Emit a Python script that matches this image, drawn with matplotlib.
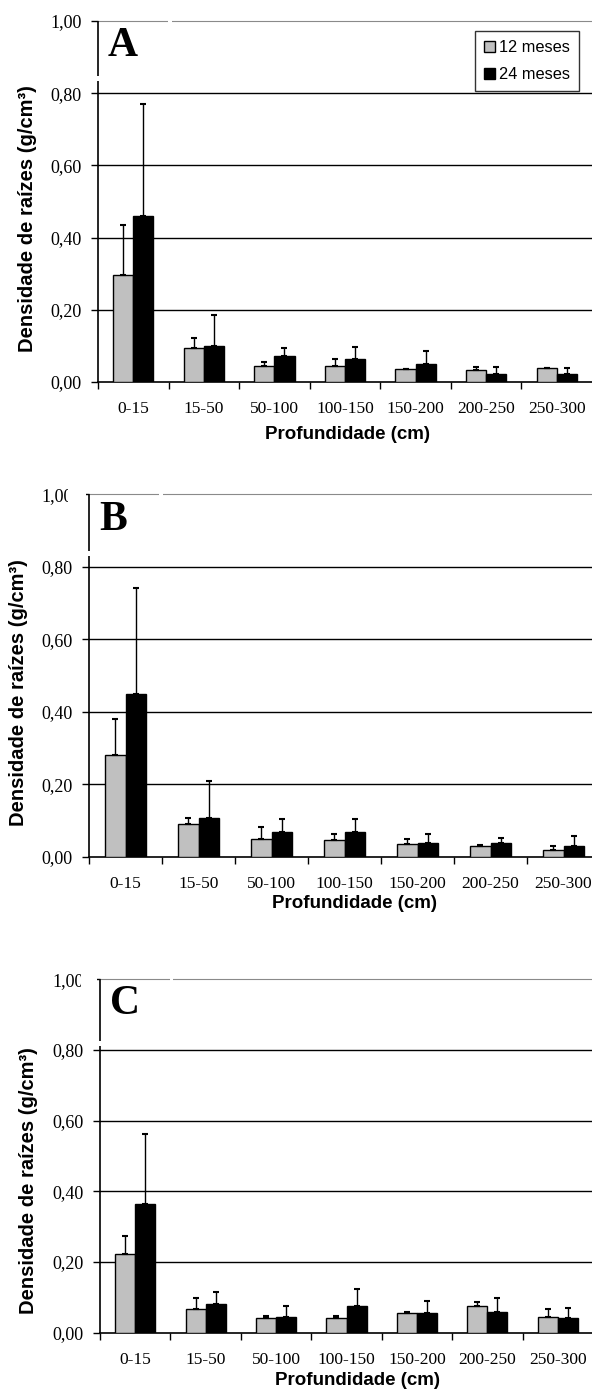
import numpy as np
import matplotlib
matplotlib.use("Agg")
import matplotlib.pyplot as plt
from matplotlib.patches import Rectangle

categories = ["0-15", "15-50", "50-100", "100-150", "150-200", "200-250", "250-300"]
series_names = ["12 meses", "24 meses"]

a_12 = [0.296, 0.093, 0.045, 0.045, 0.035, 0.034, 0.038]
a_12_err = [0.140, 0.030, 0.011, 0.019, 0.002, 0.008, 0.001]
a_24 = [0.459, 0.101, 0.071, 0.064, 0.049, 0.023, 0.023]
a_24_err = [0.310, 0.085, 0.022, 0.033, 0.037, 0.019, 0.015]

b_12 = [0.281, 0.089, 0.049, 0.045, 0.034, 0.030, 0.019]
b_12_err = [0.099, 0.019, 0.032, 0.019, 0.015, 0.002, 0.011]
b_24 = [0.449, 0.108, 0.067, 0.067, 0.038, 0.038, 0.030]
b_24_err = [0.292, 0.102, 0.037, 0.037, 0.026, 0.014, 0.026]

c_12 = [0.222, 0.067, 0.041, 0.041, 0.056, 0.075, 0.044]
c_12_err = [0.052, 0.030, 0.007, 0.007, 0.003, 0.011, 0.023]
c_24 = [0.365, 0.082, 0.044, 0.075, 0.056, 0.059, 0.041]
c_24_err = [0.198, 0.034, 0.031, 0.049, 0.034, 0.038, 0.029]

yticks = [0.0, 0.2, 0.4, 0.6, 0.8, 1.0]
ytick_labels = ["0,00", "0,20", "0,40", "0,60", "0,80", "1,00"]

W, H = 592, 1392
SERIF = "Liberation Serif"
SANS = "Liberation Sans"

fig = plt.figure(figsize=(W / 100, H / 100), dpi=100)


def px_axes(left, right, top, bottom):
    return fig.add_axes([left / W, 1 - bottom / H, (right - left) / W, (bottom - top) / H])


def draw_panel(ax, letter, v12, e12, v24, e24, spine_gap, top_gap, ylab_pos, xlab_pos, legend=False):
    x = np.arange(len(categories))
    bw = 0.285
    zeros = np.zeros(len(categories))
    ekw = dict(ecolor="black", elinewidth=1, capsize=2.5, capthick=1.5)
    ax.bar(x - bw / 2, v12, bw, color="#c0c0c0", edgecolor="black", linewidth=1,
           yerr=[zeros, e12], error_kw=ekw, label=series_names[0], zorder=3)
    ax.bar(x + bw / 2, v24, bw, color="black", edgecolor="black", linewidth=1,
           yerr=[zeros, e24], error_kw=ekw, label=series_names[1], zorder=3)

    ax.set_xlim(-0.5, len(categories) - 0.5)
    ax.set_ylim(0, 1.0)
    ax.set_autoscale_on(False)

    # gridlines (0,20 .. 0,80)
    for y in yticks[1:-1]:
        ax.axhline(y, color="black", linewidth=1, zorder=1)

    ax.set_yticks(yticks)
    ax.set_yticklabels(ytick_labels, fontfamily=SERIF, fontsize=13)
    ax.tick_params(axis="y", direction="out", length=5, width=1, pad=7)

    ax.set_xticks(x)
    ax.set_xticklabels(categories, fontfamily=SERIF, fontsize=12.5)
    ax.set_xticks(np.arange(-0.5, len(categories) - 0.5, 1.0), minor=True)
    ax.tick_params(axis="x", which="major", length=0, pad=14)
    ax.tick_params(axis="x", which="minor", direction="out", length=5, width=1)

    ax.spines["right"].set_visible(False)
    ax.spines["left"].set_visible(False)
    ax.spines["top"].set_color("#8a8a8a")
    ax.spines["bottom"].set_linewidth(1.2)

    # left axis line, with the small break seen in the original
    ytr = ax.get_yaxis_transform()
    ax.plot([0, 0], [0, spine_gap[0]], transform=ytr, color="black", linewidth=1.2,
            clip_on=False, zorder=4, solid_capstyle="butt")
    ax.plot([0, 0], [spine_gap[1], 1.0], transform=ytr, color="black", linewidth=1.2,
            clip_on=False, zorder=4, solid_capstyle="butt")
    ax.plot(top_gap, [1.0, 1.0], color="white", linewidth=3, clip_on=False, zorder=5,
            solid_capstyle="butt")

    ax.set_ylabel("Densidade de raízes (g/cm³)", fontfamily=SANS, fontweight="bold", fontsize=14.5)
    ax.yaxis.set_label_coords(*ylab_pos)
    ax.set_xlabel("Profundidade (cm)", fontfamily=SANS, fontweight="bold", fontsize=13.5)
    ax.xaxis.set_label_coords(*xlab_pos)

    ax.text(0.02, 0.93, letter, transform=ax.transAxes, fontfamily=SERIF, fontweight="bold",
            fontsize=30, va="center", ha="left")

    if legend:
        leg = ax.legend(loc="upper right", bbox_to_anchor=(579 / W, 1 - 31 / H),
                        bbox_transform=fig.transFigure, frameon=True, fancybox=False,
                        prop=dict(family=SANS, size=11.8), handlelength=0.65, handleheight=0.65,
                        handletextpad=0.25, borderpad=0.55, labelspacing=0.75, borderaxespad=0)
        leg.get_frame().set_edgecolor("black")
        leg.get_frame().set_linewidth(1)
        for h in leg.legend_handles:
            h.set_linewidth(1)


ax_a = px_axes(98, 592, 21, 382)
draw_panel(ax_a, "A", a_12, a_12_err, a_24, a_24_err,
           spine_gap=(0.834, 0.847), top_gap=(0.49, 0.55),
           ylab_pos=(-0.123, 0.454), xlab_pos=(0.506, -0.122), legend=True)

ax_b = px_axes(89, 600, 494.3, 856.7)
draw_panel(ax_b, "B", b_12, b_12_err, b_24, b_24_err,
           spine_gap=(0.829, 0.843), top_gap=(0.46, 0.51),
           ylab_pos=(-0.119, 0.452), xlab_pos=(0.52, -0.106))

ax_c = px_axes(100, 593, 979.3, 1332.7)
draw_panel(ax_c, "C", c_12, c_12_err, c_24, c_24_err,
           spine_gap=(0.81, 0.825), top_gap=(0.49, 0.54),
           ylab_pos=(-0.126, 0.43), xlab_pos=(0.523, -0.110))

# cut-off "1,00" labels in panels B and C
for x0, x1, yc in [(68, 86, 494.3), (81, 97, 979.3)]:
    fig.add_artist(Rectangle((x0 / W, 1 - (yc + 9) / H), (x1 - x0) / W, 18 / H,
                             transform=fig.transFigure, facecolor="white", edgecolor="none", zorder=10))

fig.savefig("out.png", dpi=100)
